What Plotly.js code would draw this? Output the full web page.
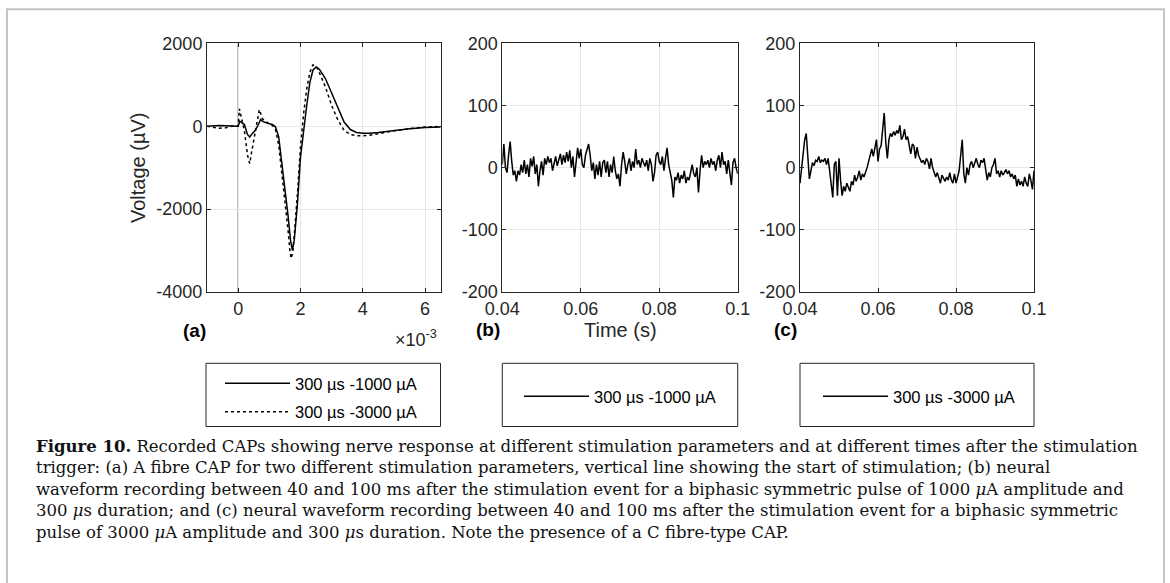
<!DOCTYPE html>
<html>
<head>
<meta charset="utf-8">
<script src="https://cdn.plot.ly/plotly-3.0.1.min.js"></script>
<style>html,body{margin:0;padding:0;background:#fff}#chart{width:1170px;height:583px}</style>
</head>
<body>
<div id="chart"></div>
<script>
// ---------- DATA ----------
// Panel (a): time in ms (axis shown as x10^-3 s), voltage in µV
const capTime1000 = [-1.0,-0.8,-0.6,-0.4,-0.2,-0.05,0.0,0.05,0.12,0.2,0.3,0.37,0.45,0.55,0.65,0.72,0.8,0.9,1.0,1.1,1.2,1.3,1.4,1.5,1.6,1.68,1.74,1.8,1.9,2.0,2.1,2.2,2.3,2.4,2.5,2.6,2.8,3.0,3.2,3.4,3.6,3.8,4.0,4.2,4.5,5.0,5.5,6.0,6.5];
const capVolt1000 = [0,10,15,10,0,0,0,120,80,40,-200,-260,-180,-100,40,160,110,80,60,40,-20,-250,-850,-1500,-2150,-2750,-2990,-2750,-1900,-750,-50,500,1050,1350,1430,1380,1150,800,420,100,-80,-150,-170,-170,-150,-100,-60,-30,-20];
const capTime3000 = [-1.0,-0.8,-0.6,-0.4,-0.2,0.0,0.04,0.12,0.2,0.3,0.37,0.45,0.55,0.62,0.68,0.78,0.9,1.0,1.1,1.2,1.3,1.4,1.5,1.6,1.66,1.7,1.75,1.8,1.9,2.0,2.1,2.2,2.3,2.4,2.5,2.6,2.8,3.0,3.2,3.4,3.6,3.8,4.0,4.2,4.5,5.0,5.5,6.0,6.5];
const capVolt3000 = [0,-20,-50,-40,0,0,420,150,-100,-700,-900,-550,-150,200,400,180,100,50,20,-80,-450,-1100,-1750,-2500,-3000,-3190,-3050,-2650,-1650,-500,300,900,1300,1480,1450,1300,950,500,150,-100,-200,-230,-230,-220,-180,-110,-60,-20,-5];
const stimTime = 0;

// Panels (b) and (c): sampled every 0.4 ms from 0.04 s
const sampleStart = 0.04, sampleStep = 0.0004;
const wave1000 = [5,38,0,-8,20,42,10,-12,-5,-22,-5,-12,5,-8,12,-10,5,-15,15,2,18,-10,5,-30,-5,10,-12,15,5,18,8,15,-5,10,18,3,15,22,5,20,8,25,10,28,0,18,-15,8,32,15,30,5,0,20,30,38,20,-5,8,-18,5,-12,10,-15,8,12,-8,10,-15,5,-8,18,-5,-18,-10,-30,5,25,10,-10,5,15,-5,10,0,30,5,12,0,15,8,2,12,-5,15,5,-22,-8,20,25,10,5,18,-5,15,32,5,-8,-20,-48,-15,-20,-8,-25,-12,-18,-5,-25,-15,-20,-5,5,-10,-15,0,-40,-5,20,0,10,5,12,0,15,5,10,-5,12,20,0,25,5,10,-10,12,-5,-28,8,15,0,-10];
const wave3000 = [-25,0,20,45,55,20,-18,-5,8,3,12,10,18,8,12,10,15,5,15,-5,-25,-48,5,10,-45,15,-20,-45,-30,-38,-25,-32,-38,-22,-28,-12,-22,-15,-5,-20,-10,-15,-8,0,10,22,30,18,30,45,10,30,35,65,88,40,15,45,55,50,58,52,60,55,68,45,50,62,45,50,32,22,38,35,15,33,20,15,8,12,5,15,10,-2,15,0,-8,-15,-8,-15,-25,-12,-18,-22,-15,-20,-8,-20,-25,-10,-25,-15,-5,20,45,-10,-25,0,-12,5,10,0,8,15,5,0,12,8,15,-5,-20,-8,-15,0,5,15,-10,-5,-15,-5,-12,-8,-3,-10,-5,-15,-10,-18,-12,-30,-18,-28,-22,-30,-15,-25,-30,-10,-20,-35,-5];

// Tick labels
const aXTickVals = [0,2,4,6], aXTickText = ['0','2','4','6'];
const aYTickVals = [-4000,-2000,0,2000], aYTickText = ['-4000','-2000','0','2000'];
const bcXTickVals = [0.04,0.06,0.08,0.1], bcXTickText = ['0.04','0.06','0.08','0.1'];
const bcYTickVals = [-200,-100,0,100,200], bcYTickText = ['-200','-100','0','100','200'];
const legendNames = ['300 µs -1000 µA','300 µs -3000 µA'];

const captionLines = [
 '<b>Figure 10.</b> Recorded CAPs showing nerve response at different stimulation parameters and at different times after the stimulation',
 'trigger: (a) A fibre CAP for two different stimulation parameters, vertical line showing the start of stimulation; (b) neural',
 'waveform recording between 40 and 100 ms after the stimulation event for a biphasic symmetric pulse of 1000 <i>μ</i>A amplitude and',
 '300 <i>μ</i>s duration; and (c) neural waveform recording between 40 and 100 ms after the stimulation event for a biphasic symmetric',
 'pulse of 3000 <i>μ</i>A amplitude and 300 <i>μ</i>s duration. Note the presence of a C fibre-type CAP.'
];

// ---------- LAYOUT HELPERS ----------
const W = 1170, H = 583;
const px = v => v / W;
const py = v => 1 - v / H;
const AX = '#262626', GRID = '#e6e6e6', SANS = 'Liberation Sans, Arial, sans-serif';

function axisX(dom, range, tv, tt) {
  return {domain: dom, range: range, tickvals: tv, ticktext: tt, showgrid: true, gridcolor: GRID,
    zeroline: false, showline: true, linecolor: AX, linewidth: 1, mirror: 'ticks', ticks: 'inside',
    ticklen: 4, tickcolor: AX, tickfont: {family: SANS, size: 18, color: AX}, fixedrange: true};
}
function axisY(range, tv, tt, anchor) {
  return {domain: [py(292), py(43.3)], range: range, tickvals: tv, ticktext: tt, showgrid: true, gridcolor: GRID,
    zeroline: false, showline: true, linecolor: AX, linewidth: 1, mirror: 'ticks', ticks: 'inside',
    ticklen: 4, tickcolor: AX, tickfont: {family: SANS, size: 18, color: AX}, anchor: anchor, fixedrange: true};
}

const lineStyle = {color: '#000', width: 1.5};
const traces = [
  {x: capTime1000, y: capVolt1000, xaxis: 'x', yaxis: 'y', mode: 'lines', name: legendNames[0],
   line: lineStyle, legend: 'legend', legendgroup: 'a1'},
  {x: capTime3000, y: capVolt3000, xaxis: 'x', yaxis: 'y', mode: 'lines', name: legendNames[1],
   line: {color: '#000', width: 1.5, dash: 'dot'}, legend: 'legend', legendgroup: 'a2'},
  {x0: sampleStart, dx: sampleStep, y: wave1000, xaxis: 'x2', yaxis: 'y2', mode: 'lines', name: legendNames[0],
   line: lineStyle, legend: 'legend2'},
  {x0: sampleStart, dx: sampleStep, y: wave3000, xaxis: 'x3', yaxis: 'y3', mode: 'lines', name: legendNames[1],
   line: lineStyle, legend: 'legend3'}
];

function ann(text, x, y, opts) {
  return Object.assign({text: text, x: px(x), y: py(y), xref: 'paper', yref: 'paper', showarrow: false,
    xanchor: 'center', yanchor: 'middle', font: {family: SANS, size: 20, color: AX}}, opts || {});
}

const annotations = [
  ann('Voltage (µV)', 138, 168, {textangle: -90}),
  ann('Time (s)', 620, 330),
  ann('<b>(a)</b>', 194, 330, {font: {family: SANS, size: 19, color: '#000'}}),
  ann('<b>(b)</b>', 488, 329, {font: {family: SANS, size: 19, color: '#000'}}),
  ann('<b>(c)</b>', 786, 329, {font: {family: SANS, size: 19, color: '#000'}}),
  ann('×10<sup>-3</sup>', 439, 338, {xanchor: 'right', font: {family: SANS, size: 18, color: AX}})
];
captionLines.forEach((t, i) => {
  annotations.push(ann(t, 34, 446 + 21.5 * i, {xanchor: 'left',
    font: {family: 'DejaVu Serif, serif', size: 16.5, color: '#111'}}));
});

function rect(x0, y0, x1, y1, color, width) {
  return {type: 'rect', xref: 'paper', yref: 'paper', x0: px(x0), x1: px(x1), y0: py(y1), y1: py(y0),
    line: {color: color, width: width}, fillcolor: 'rgba(0,0,0,0)', layer: 'above'};
}
const shapes = [
  {type: 'line', xref: 'x', yref: 'y domain', x0: stimTime, x1: stimTime, y0: 0, y1: 1,
   line: {color: '#444', width: 1}, layer: 'below'},
  rect(7, 9.3, 1164, 600, '#c4c4c4', 2),
  rect(206, 363.3, 440.5, 426.5, AX, 1),
  rect(502.3, 363.3, 737.7, 426.5, AX, 1),
  rect(800, 363.3, 1034, 426.5, AX, 1)
];

function legendBox(x, y) {
  return {x: px(x), y: py(y), xanchor: 'left', yanchor: 'top', bgcolor: 'rgba(0,0,0,0)', borderwidth: 0,
    font: {family: SANS, size: 16.5, color: '#000'}, tracegroupgap: 4, itemwidth: 65};
}

const layout = {
  width: W, height: H, margin: {l: 0, r: 0, t: 0, b: 0}, paper_bgcolor: '#fff', plot_bgcolor: '#fff',
  showlegend: true,
  xaxis: Object.assign(axisX([px(207), px(440.7)], [-1, 6.5], aXTickVals, aXTickText), {anchor: 'y'}),
  yaxis: axisY([-4000, 2000], aYTickVals, aYTickText, 'x'),
  xaxis2: Object.assign(axisX([px(502.3), px(737.7)], [0.04, 0.1], bcXTickVals, bcXTickText), {anchor: 'y2'}),
  yaxis2: axisY([-200, 200], bcYTickVals, bcYTickText, 'x2'),
  xaxis3: Object.assign(axisX([px(800), px(1034)], [0.04, 0.1], bcXTickVals, bcXTickText), {anchor: 'y3'}),
  yaxis3: axisY([-200, 200], bcYTickVals, bcYTickText, 'x3'),
  legend: legendBox(220, 366),
  legend2: legendBox(519, 379),
  legend3: legendBox(818, 379),
  annotations: annotations,
  shapes: shapes
};

Plotly.newPlot('chart', traces, layout, {staticPlot: true, displayModeBar: false});
</script>
</body>
</html>
